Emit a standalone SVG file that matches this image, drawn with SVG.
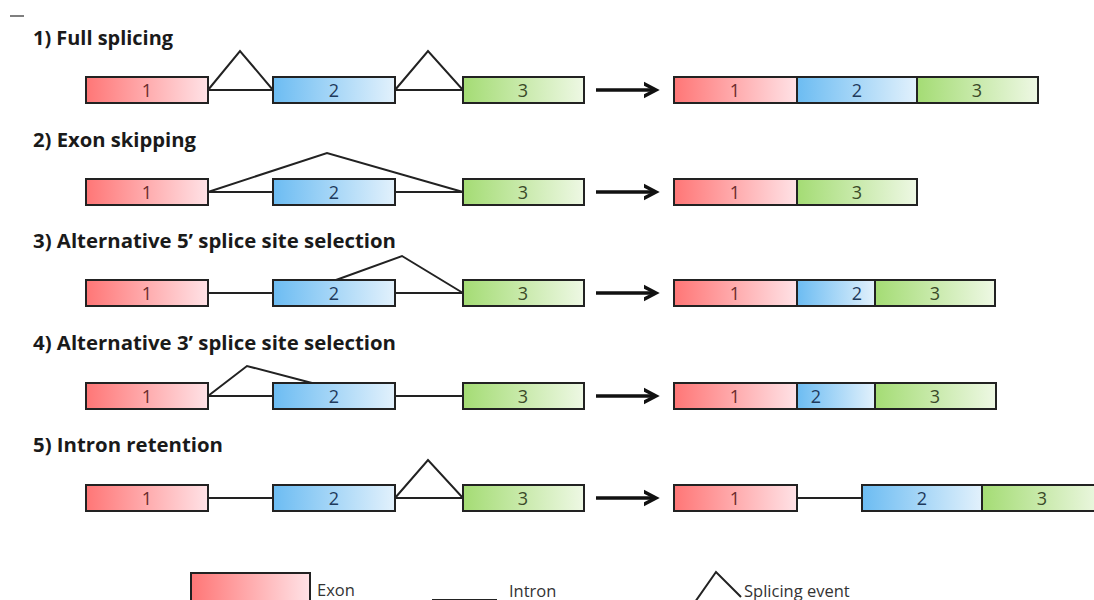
<svg xmlns="http://www.w3.org/2000/svg" width="1094" height="600" viewBox="0 0 1094 600">
<defs>
<linearGradient id="gr" x1="0" y1="0" x2="1" y2="0"><stop offset="0" stop-color="#ff7676"/><stop offset="1" stop-color="#ffe2e6"/></linearGradient>
<linearGradient id="gb" x1="0" y1="0" x2="1" y2="0"><stop offset="0" stop-color="#6cbcf2"/><stop offset="1" stop-color="#e2f1fc"/></linearGradient>
<linearGradient id="gg" x1="0" y1="0" x2="1" y2="0"><stop offset="0" stop-color="#a4dc74"/><stop offset="1" stop-color="#eef8e4"/></linearGradient>
<marker id="ah" markerWidth="24" markerHeight="24" refX="12" refY="12" orient="auto" markerUnits="userSpaceOnUse"><path d="M-5,3 L12,12 L-5,21" fill="none" stroke="#111" stroke-width="3.5"/></marker>
</defs>
<style>
.r{fill:url(#gr);stroke:#222;stroke-width:2}
.b{fill:url(#gb);stroke:#222;stroke-width:2}
.g{fill:url(#gg);stroke:#222;stroke-width:2}
.ln{fill:none;stroke:#222;stroke-width:2;stroke-linejoin:miter}
.ar{stroke:#111;stroke-width:3.5}
.t{font-family:"Open Sans",Lato,sans-serif;font-weight:bold;font-size:19px;fill:#1a1a1a}
.n{font-family:"Open Sans",Lato,sans-serif;font-size:18px;text-anchor:middle}
.n1{fill:#6a2a2a}.n2{fill:#1e3a5c}.n3{fill:#3a4a28}
.lg{font-family:"Open Sans",Lato,sans-serif;font-size:16.5px;fill:#333}
</style>
<rect width="1094" height="600" fill="#fff"/>
<line x1="10" y1="16" x2="24" y2="16" stroke="#555" stroke-width="1.5"/>

<g id="titles">
<text class="t" x="33" y="45" textLength="140" lengthAdjust="spacingAndGlyphs">1) Full splicing</text>
<text class="t" x="33" y="147" textLength="163" lengthAdjust="spacingAndGlyphs">2) Exon skipping</text>
<text class="t" x="33" y="248" textLength="363" lengthAdjust="spacingAndGlyphs">3) Alternative 5’ splice site selection</text>
<text class="t" x="33" y="350" textLength="363" lengthAdjust="spacingAndGlyphs">4) Alternative 3’ splice site selection</text>
<text class="t" x="33" y="452" textLength="190" lengthAdjust="spacingAndGlyphs">5) Intron retention</text>
</g>

<g id="connectors">
<polyline class="ln" points="208,90 240,51 273,90 208,90"/>
<polyline class="ln" points="395,90 428,51 463,90 395,90"/>
<line class="ar" x1="596" y1="90" x2="656" y2="90" marker-end="url(#ah)"/>
<polyline class="ln" points="208,192 327,153 463,192"/>
<line class="ln" x1="208" y1="192" x2="273" y2="192"/>
<line class="ln" x1="395" y1="192" x2="463" y2="192"/>
<line class="ar" x1="596" y1="192" x2="656" y2="192" marker-end="url(#ah)"/>
<line class="ln" x1="208" y1="293" x2="273" y2="293"/>
<line class="ln" x1="395" y1="293" x2="463" y2="293"/>
<polyline class="ln" points="336,280 402,256 463,293"/>
<line class="ar" x1="596" y1="293" x2="656" y2="293" marker-end="url(#ah)"/>
<line class="ln" x1="208" y1="396" x2="273" y2="396"/>
<line class="ln" x1="395" y1="396" x2="463" y2="396"/>
<polyline class="ln" points="208,396 247,366 312,383"/>
<line class="ar" x1="596" y1="396" x2="656" y2="396" marker-end="url(#ah)"/>
<line class="ln" x1="208" y1="498" x2="273" y2="498"/>
<polyline class="ln" points="395,498 428,460 463,498 395,498"/>
<line class="ar" x1="596" y1="498" x2="656" y2="498" marker-end="url(#ah)"/>
<line class="ln" x1="797" y1="498" x2="862" y2="498"/>
</g>

<g id="row1">
<g id="r1e1"><rect class="r" x="86" y="77" width="122" height="26"/><text class="n n1" x="147" y="97">1</text></g>
<g id="r1e2"><rect class="b" x="273" y="77" width="122" height="26"/><text class="n n2" x="334" y="97">2</text></g>
<g id="r1e3"><rect class="g" x="463" y="77" width="121" height="26"/><text class="n n3" x="523" y="97">3</text></g>
<g id="r1o1"><rect class="r" x="674" y="77" width="123" height="26"/><text class="n n1" x="735" y="97">1</text></g>
<g id="r1o2"><rect class="b" x="797" y="77" width="120" height="26"/><text class="n n2" x="857" y="97">2</text></g>
<g id="r1o3"><rect class="g" x="917" y="77" width="121" height="26"/><text class="n n3" x="977" y="97">3</text></g>
</g>

<g id="row2">
<g id="r2e1"><rect class="r" x="86" y="179" width="122" height="26"/><text class="n n1" x="147" y="199">1</text></g>
<g id="r2e2"><rect class="b" x="273" y="179" width="122" height="26"/><text class="n n2" x="334" y="199">2</text></g>
<g id="r2e3"><rect class="g" x="463" y="179" width="121" height="26"/><text class="n n3" x="523" y="199">3</text></g>
<g id="r2o1"><rect class="r" x="674" y="179" width="123" height="26"/><text class="n n1" x="735" y="199">1</text></g>
<g id="r2o3"><rect class="g" x="797" y="179" width="120" height="26"/><text class="n n3" x="857" y="199">3</text></g>
</g>

<g id="row3">
<g id="r3e1"><rect class="r" x="86" y="280" width="122" height="26"/><text class="n n1" x="147" y="300">1</text></g>
<g id="r3e2"><rect class="b" x="273" y="280" width="122" height="26"/><text class="n n2" x="334" y="300">2</text></g>
<g id="r3e3"><rect class="g" x="463" y="280" width="121" height="26"/><text class="n n3" x="523" y="300">3</text></g>
<g id="r3o1"><rect class="r" x="674" y="280" width="123" height="26"/><text class="n n1" x="735" y="300">1</text></g>
<g id="r3o2"><rect class="b" x="797" y="280" width="78" height="26"/><text class="n n2" x="857" y="300">2</text></g>
<g id="r3o3"><rect class="g" x="875" y="280" width="120" height="26"/><text class="n n3" x="935" y="300">3</text></g>
</g>

<g id="row4">
<g id="r4e1"><rect class="r" x="86" y="383" width="122" height="26"/><text class="n n1" x="147" y="403">1</text></g>
<g id="r4e2"><rect class="b" x="273" y="383" width="122" height="26"/><text class="n n2" x="334" y="403">2</text></g>
<g id="r4e3"><rect class="g" x="463" y="383" width="121" height="26"/><text class="n n3" x="523" y="403">3</text></g>
<g id="r4o1"><rect class="r" x="674" y="383" width="123" height="26"/><text class="n n1" x="735" y="403">1</text></g>
<g id="r4o2"><rect class="b" x="797" y="383" width="78" height="26"/><text class="n n2" x="816" y="403">2</text></g>
<g id="r4o3"><rect class="g" x="875" y="383" width="121" height="26"/><text class="n n3" x="935" y="403">3</text></g>
</g>

<g id="row5">
<g id="r5e1"><rect class="r" x="86" y="485" width="122" height="26"/><text class="n n1" x="147" y="505">1</text></g>
<g id="r5e2"><rect class="b" x="273" y="485" width="122" height="26"/><text class="n n2" x="334" y="505">2</text></g>
<g id="r5e3"><rect class="g" x="463" y="485" width="121" height="26"/><text class="n n3" x="523" y="505">3</text></g>
<g id="r5o1"><rect class="r" x="674" y="485" width="123" height="26"/><text class="n n1" x="735" y="505">1</text></g>
<g id="r5o2"><rect class="b" x="862" y="485" width="120" height="26"/><text class="n n2" x="922" y="505">2</text></g>
<g id="r5o3"><rect class="g" x="982" y="485" width="121" height="26"/><text class="n n3" x="1042" y="505">3</text></g>
</g>

<g id="legend">
<rect class="r" x="191" y="573" width="119" height="30"/>
<text class="lg" x="317" y="596">Exon</text>
<line class="ln" x1="432" y1="600" x2="497" y2="600"/>
<text class="lg" x="509" y="597">Intron</text>
<polyline class="ln" points="695,602 716,572 741,597"/>
<text class="lg" x="744" y="597">Splicing event</text>
</g>
</svg>
